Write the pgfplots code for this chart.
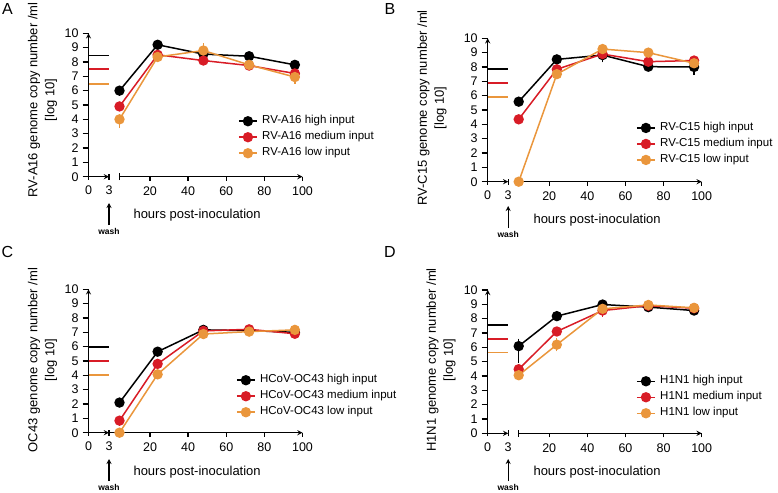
\documentclass[border=0pt]{standalone}
\usepackage{pgfplots}
\pgfplotsset{compat=1.18}
\usepackage{fontspec}
\setmainfont{Liberation Sans}
\usetikzlibrary{arrows.meta}
\definecolor{cblack}{RGB}{0,0,0}
\definecolor{cred}{RGB}{216,28,38}
\definecolor{corange}{RGB}{234,150,60}
\pgfplotsset{
  every axis/.append style={
    scale only axis, height=143.4pt, ymin=0, ymax=10, clip=false,
    /pgf/number format/assume math mode=true,
    tick label style={font=\fontsize{12.5}{13}\selectfont},
    axis line style={-, line width=1.3pt},
    every tick/.style={line width=1.3pt, black},
    major tick length=4pt,
  },
  leftax/.style={width=20.5pt, xmin=0, xmax=3, axis x line=bottom, axis y line=left,
    xtick={0,3}, ytick={0,1,...,10}, xtick align=center, ytick align=outside,
    major tick length=6pt, ytick style={xshift=0pt},
    xticklabel style={yshift=-3pt}, yticklabel style={xshift=-0.5pt}},
  rightax/.style={width=183pt, xmin=4, xmax=100, axis x line=bottom, axis y line=none,
    xtick={20,40,60,80,100}, xtick align=outside,
    xticklabel style={yshift=-3pt},
    extra x ticks={4}, extra x tick labels={}, extra x tick style={xtick align=center, major tick length=7pt},
    legend cell align=left,
    legend style={anchor=north west, draw=none, fill=none,
      inner sep=0pt, row sep=0pt, column sep=2pt,
      nodes={font=\fontsize{11.5}{13}\selectfont, inner ysep=2pt, inner xsep=2.5pt, text height=8.5pt, text depth=3.5pt}},
    legend image code/.code={\draw[mark repeat=2,mark phase=2,##1] plot coordinates {(0pt,0pt) (9pt,0pt) (18pt,0pt)};},
  },
  ser/.style={line width=1.5pt, color=#1, mark=*, mark size=4.4pt, mark options={solid, fill=#1, draw=#1},
    error bars/.cd, y dir=both, y explicit, error bar style={line width=1.3pt, #1},
    error mark options={mark size=3.8pt, line width=1.3pt, #1}},
  inp/.style={line width=1.7pt, color=#1, forget plot},
}
\tikzset{
  ylab/.style={font=\fontsize{13}{17}\selectfont, rotate=90, align=center},
  xlab/.style={font=\fontsize{13}{15}\selectfont, anchor=west},
  washlab/.style={font=\bfseries\fontsize{8.5}{9}\selectfont},
  panel/.style={font=\fontsize{16}{16}\selectfont},
}
\begin{document}
\begin{tikzpicture}
\path[use as bounding box] (0pt,0pt) rectangle (778pt,-492pt);
% ===================== Panel A =====================
\begin{axis}[leftax, at={(88.5pt,-176.7pt)}, anchor=south west]
\addplot[inp=cblack] coordinates {(0.1,8.45) (3,8.45)};
\addplot[inp=cred] coordinates {(0.1,7.5) (3,7.5)};
\addplot[inp=corange] coordinates {(0.1,6.45) (3,6.45)};
\end{axis}
\begin{axis}[rightax, at={(119.5pt,-176.7pt)}, anchor=south west,
  legend style={at={(0.6475,0.444)}}]
\addplot[ser=cblack] coordinates {(4,6.0) +- (0,0) (24,9.2) +- (0,0) (48,8.55) +- (0,0.15) (72,8.4) +- (0,0) (96,7.8) +- (0,0)};
\addplot[ser=cred] coordinates {(4,4.9) +- (0,0) (24,8.5) +- (0,0) (48,8.1) +- (0,0) (72,7.75) +- (0,0) (96,7.2) +- (0,0)};
\addplot[ser=corange] coordinates {(4,4.0) += (0,0) -= (0,0.35) (24,8.35) +- (0,0) (48,8.8) +- (0,0.25) (72,7.8) +- (0,0) (96,6.95) +- (0,0.2)};
\legend{RV-A16 high input, RV-A16 medium input, RV-A16 low input}
\end{axis}
\node[ylab] at (42.5pt,-100pt) {RV-A16 genome copy number /ml\\{}[log 10]};
\node[xlab] at (130pt,-215pt) {hours post-inoculation};
\draw[line width=1.3pt, -{Stealth[length=5pt,width=5pt]}] (109pt,-225pt) -- (109pt,-203pt);
\node[washlab] at (109pt,-231pt) {wash};
\node[panel] at (7.5pt,-9pt) {A};
% ===================== Panel B =====================
\begin{axis}[leftax, at={(487.7pt,-181.7pt)}, anchor=south west]
\addplot[inp=cblack] coordinates {(0.1,7.86) (3,7.86)};
\addplot[inp=cred] coordinates {(0.1,6.86) (3,6.86)};
\addplot[inp=corange] coordinates {(0.1,5.89) (3,5.89)};
\end{axis}
\begin{axis}[rightax, at={(518.7pt,-181.7pt)}, anchor=south west,
  legend style={at={(0.641,0.432)}}]
\addplot[ser=cblack] coordinates {(4,5.58) +- (0,0) (24,8.53) +- (0,0) (48,8.83) +- (0,0.25) (72,8.02) +- (0,0) (96,8.0) +- (0,0.3)};
\addplot[ser=cred] coordinates {(4,4.35) +- (0,0) (24,7.84) +- (0,0) (48,8.9) +- (0,0) (72,8.37) +- (0,0) (96,8.45) +- (0,0)};
\addplot[ser=corange] coordinates {(4,0) +- (0,0) (24,7.5) +- (0,0) (48,9.25) +- (0,0) (72,9.0) +- (0,0) (96,8.26) +- (0,0)};
\legend{RV-C15 high input, RV-C15 medium input, RV-C15 low input}
\end{axis}
\node[ylab] at (432pt,-108pt) {RV-C15 genome copy number /ml\\{}[log 10]};
\node[xlab] at (530pt,-220pt) {hours post-inoculation};
\draw[line width=1.3pt, -{Stealth[length=5pt,width=5pt]}] (508.2pt,-228pt) -- (508.2pt,-206pt);
\node[washlab] at (508.2pt,-234pt) {wash};
\node[panel] at (390pt,-9pt) {B};
% ===================== Panel C =====================
\begin{axis}[leftax, at={(88.5pt,-432.7pt)}, anchor=south west]
\addplot[inp=cblack] coordinates {(0.1,6.0) (3,6.0)};
\addplot[inp=cred] coordinates {(0.1,5.0) (3,5.0)};
\addplot[inp=corange] coordinates {(0.1,4.0) (3,4.0)};
\end{axis}
\begin{axis}[rightax, at={(109pt,-432.7pt)}, anchor=south west, width=193.5pt, xmin=-1.51,
  extra x ticks={}, legend style={at={(0.656,0.423)}}]
\addplot[ser=cblack] coordinates {(4,2.1) +- (0,0) (24,5.65) +- (0,0) (48,7.17) +- (0,0) (72,7.12) +- (0,0) (96,7.0) +- (0,0)};
\addplot[ser=cred] coordinates {(4,0.84) +- (0,0) (24,4.8) +- (0,0) (48,7.1) +- (0,0) (72,7.21) +- (0,0) (96,6.9) +- (0,0)};
\addplot[ser=corange] coordinates {(4,0) +- (0,0) (24,4.07) +- (0,0) (48,6.88) +- (0,0) (72,7.05) +- (0,0) (96,7.17) +- (0,0)};
\legend{HCoV-OC43 high input, HCoV-OC43 medium input, HCoV-OC43 low input}
\end{axis}
\node[ylab] at (42.5pt,-360pt) {OC43 genome copy number /ml\\{}[log 10]};
\node[xlab] at (130pt,-472pt) {hours post-inoculation};
\draw[line width=1.3pt, -{Stealth[length=5pt,width=5pt]}] (109pt,-481pt) -- (109pt,-459pt);
\node[washlab] at (109pt,-487pt) {wash};
\node[panel] at (7.5pt,-252pt) {C};
% ===================== Panel D =====================
\begin{axis}[leftax, at={(487.7pt,-433.3pt)}, anchor=south west]
\addplot[inp=cblack] coordinates {(0.1,7.57) (3,7.57)};
\addplot[inp=cred] coordinates {(0.1,6.6) (3,6.6)};
\addplot[inp=corange] coordinates {(0.1,5.63) (3,5.63)};
\end{axis}
\begin{axis}[rightax, at={(518.7pt,-433.3pt)}, anchor=south west,
  legend style={at={(0.641,0.42)}}]
\addplot[ser=cblack] coordinates {(4,6.08) += (0,0.25) -= (0,0.9) (24,8.17) +- (0,0) (48,8.98) +- (0,0) (72,8.8) +- (0,0) (96,8.56) +- (0,0)};
\addplot[ser=cred] coordinates {(4,4.47) +- (0,0) (24,7.1) +- (0,0) (48,8.56) +- (0,0.15) (72,8.9) +- (0,0) (96,8.72) +- (0,0)};
\addplot[ser=corange] coordinates {(4,4.05) +- (0,0) (24,6.18) +- (0,0.2) (48,8.68) +- (0,0) (72,8.95) +- (0,0) (96,8.75) +- (0,0)};
\legend{H1N1 high input, H1N1 medium input, H1N1 low input}
\end{axis}
\node[ylab] at (441pt,-360pt) {H1N1 genome copy number /ml\\{}[log 10]};
\node[xlab] at (530pt,-472pt) {hours post-inoculation};
\draw[line width=1.3pt, -{Stealth[length=5pt,width=5pt]}] (508.2pt,-481pt) -- (508.2pt,-459pt);
\node[washlab] at (508.2pt,-487pt) {wash};
\node[panel] at (390pt,-252pt) {D};
\end{tikzpicture}
\end{document}
